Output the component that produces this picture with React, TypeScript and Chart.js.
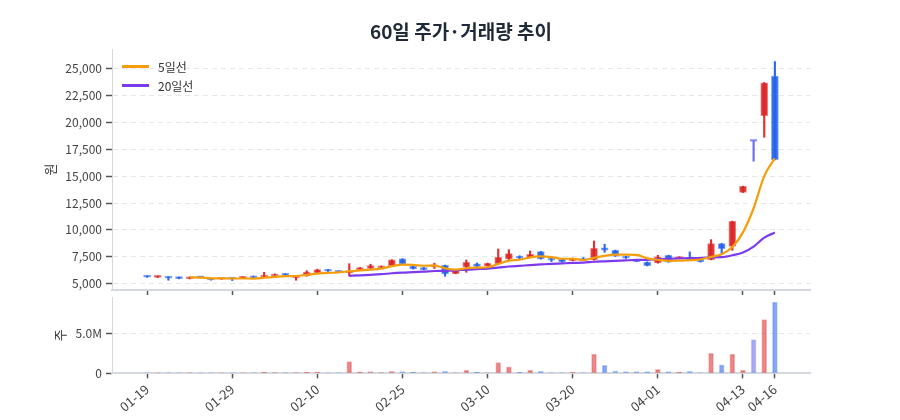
import React, { useEffect, useRef } from 'react';
import { Chart, registerables } from 'chart.js';

Chart.register(...registerables);

const FONT = '"Noto Sans CJK KR", "Noto Sans", sans-serif';

// Trading days (MM-DD)
const dates = [
  '01-19', '01-20', '01-21', '01-22', '01-23', '01-26', '01-27', '01-28', '01-29', '01-30',
  '02-02', '02-03', '02-04', '02-05', '02-06', '02-09', '02-10', '02-11', '02-12', '02-13',
  '02-19', '02-20', '02-23', '02-24', '02-25', '02-26', '02-27', '03-03', '03-04', '03-05',
  '03-06', '03-09', '03-10', '03-11', '03-12', '03-13', '03-16', '03-17', '03-18', '03-19',
  '03-20', '03-23', '03-24', '03-25', '03-26', '03-27', '03-30', '03-31', '04-01', '04-02',
  '04-03', '04-06', '04-07', '04-08', '04-09', '04-10', '04-13', '04-14', '04-15', '04-16',
];

const opens = [
  5700, 5580, 5620, 5590, 5450, 5600, 5460, 5400, 5480, 5480,
  5680, 5600, 5700, 5900, 5520, 5700, 6020, 6300, 6150, 6000,
  6280, 6420, 6460, 6640, 7300, 6600, 6490, 6550, 6700, 5930,
  6520, 6830, 6640, 6830, 7300, 7570, 7420, 7980, 7360, 7260,
  7140, 7330, 7200, 8320, 8100, 7540, 7200, 7000, 6920, 7630,
  7330, 7360, 7230, 7230, 8720, 8470, 13500, 18250, 20650, 24320,
];

const closes = [
  5600, 5690, 5500, 5460, 5600, 5540, 5340, 5450, 5420, 5600,
  5530, 5700, 5870, 5760, 5650, 6080, 6300, 6150, 6050, 6150,
  6480, 6670, 6610, 7200, 6830, 6360, 6300, 6700, 5900, 6240,
  6980, 6600, 6890, 7450, 7790, 7360, 7730, 7290, 7170, 7010,
  7360, 7150, 8290, 8100, 7540, 7360, 7050, 6660, 7480, 7000,
  7480, 7230, 7020, 8720, 8250, 10800, 14050, 18250, 23700, 16540,
];

const highs = [
  5720, 5710, 5640, 5610, 5620, 5620, 5480, 5470, 5500, 5620,
  5700, 6050, 5900, 5920, 5680, 6200, 6340, 6320, 6170, 6850,
  6500, 6800, 6630, 7220, 7320, 6620, 6510, 6900, 6720, 6260,
  7200, 6920, 6910, 8220, 8160, 7590, 8040, 8000, 7380, 7280,
  7380, 7420, 8970, 8660, 8120, 7560, 7220, 7020, 7630, 7650,
  7500, 7950, 7250, 9090, 8740, 10820, 14070, 18300, 23720, 25680,
];

const lows = [
  5580, 5560, 5310, 5440, 5430, 5520, 5320, 5380, 5280, 5460,
  5510, 5580, 5680, 5740, 5310, 5680, 6000, 6130, 6030, 5700,
  6260, 6400, 6440, 6620, 6810, 6340, 6280, 6400, 5680, 5910,
  6050, 6580, 6620, 6810, 7140, 7230, 7400, 7270, 7050, 6990,
  7120, 7130, 7180, 7910, 7520, 7340, 7030, 6640, 6900, 6980,
  7310, 7210, 7000, 7210, 7700, 8100, 13480, 16400, 18630, 16520,
];

// Shares traded per day
const volumes = [
  40000, 20000, 50000, 20000, 30000, 20000, 50000, 20000, 20000, 60000,
  50000, 150000, 80000, 30000, 80000, 150000, 150000, 20000, 60000, 1450000,
  180000, 200000, 80000, 250000, 200000, 150000, 60000, 200000, 250000, 60000,
  400000, 150000, 60000, 1330000, 800000, 120000, 400000, 250000, 60000, 60000,
  120000, 50000, 2400000, 1000000, 300000, 200000, 200000, 200000, 500000, 200000,
  150000, 250000, 50000, 2500000, 1050000, 2400000, 400000, 4200000, 6700000, 8900000,
];

// 5-day and 20-day moving averages
const ma5 = [
  null, null, null, null, 5570, 5558, 5488, 5478, 5470, 5470,
  5468, 5540, 5624, 5692, 5702, 5812, 5932, 5988, 6046, 6146,
  6226, 6300, 6392, 6622, 6758, 6734, 6660, 6678, 6418, 6300,
  6424, 6484, 6522, 6832, 7142, 7218, 7444, 7524, 7468, 7312,
  7312, 7196, 7396, 7582, 7688, 7688, 7668, 7342, 7218, 7110,
  7134, 7170, 7242, 7490, 7740, 8404, 9768, 12014, 15010, 16668,
];

const ma20 = [
  null, null, null, null, null, null, null, null, null, null,
  null, null, null, null, null, null, null, null, null, 5722,
  5766, 5815, 5871, 5958, 6019, 6060, 6108, 6171, 6195, 6227,
  6299, 6344, 6395, 6480, 6587, 6651, 6722, 6779, 6835, 6878,
  6922, 6946, 7030, 7075, 7111, 7161, 7198, 7196, 7275, 7313,
  7338, 7370, 7376, 7440, 7463, 7635, 7901, 8449, 9275, 9752,
];

const xTickIndex = [0, 8, 16, 24, 32, 40, 48, 56, 59];
const priceTicks = [5000, 7500, 10000, 12500, 15000, 17500, 20000, 22500, 25000];
const volumeTicks = [0, 5000000];

const RISE = [220, 38, 38];
const FALL = [37, 99, 235];
const FLAT = [99, 102, 241];
const MA5_COLOR = '#f59e0b';
const MA20_COLOR = '#7c3aed';

const rgba = (c: number[], a: number) => `rgba(${c[0]},${c[1]},${c[2]},${a})`;

const X_MIN = -3.3;
const X_MAX = 62.3;
const AXIS_W = 104;
const RIGHT_PAD = 82;

const legendItems = [
  { label: '5일선', color: MA5_COLOR },
  { label: '20일선', color: MA20_COLOR },
];

function xAxis(showLabels: boolean, height: number) {
  return {
    type: 'linear' as const,
    min: X_MIN,
    max: X_MAX,
    offset: false,
    afterBuildTicks: (s: any) => {
      s.ticks = xTickIndex.map((v) => ({ value: v }));
    },
    afterFit: (s: any) => {
      s.height = height;
      s.paddingLeft = 0;
      s.paddingRight = 0;
    },
    ticks: {
      display: showLabels,
      autoSkip: false,
      minRotation: 40,
      maxRotation: 40,
      padding: 3,
      color: '#444',
      font: { family: FONT, size: 13 },
      callback: (v: any) => dates[v] ?? '',
    },
    grid: {
      display: true,
      offset: false,
      drawOnChartArea: false,
      drawTicks: true,
      tickLength: 5,
      tickColor: '#555',
      tickWidth: 1.5,
    },
    border: { display: true, color: '#d5d9df', width: 2 },
  };
}

function yAxis(
  ticks: number[],
  min: number,
  max: number,
  fmt: (v: number) => string,
  title: string,
  titlePad: number,
) {
  return {
    type: 'linear' as const,
    min,
    max,
    afterBuildTicks: (s: any) => {
      s.ticks = ticks.map((v) => ({ value: v }));
    },
    afterFit: (s: any) => {
      s.width = AXIS_W;
      s.paddingTop = 0;
      s.paddingBottom = 0;
    },
    ticks: {
      color: '#444',
      padding: 4,
      font: { family: FONT, size: 12 },
      callback: (v: any) => fmt(Number(v)),
    },
    grid: {
      color: '#e5e7eb',
      lineWidth: 1,
      tickLength: 6,
      tickColor: '#555',
      tickWidth: 1.5,
      tickBorderDash: [],
    },
    border: { display: true, color: '#d5d9df', width: 1, dash: [5, 4] },
    title: {
      display: true,
      text: title,
      color: '#333',
      font: { family: FONT, size: 13 },
      padding: { top: titlePad, bottom: 0 },
    },
  };
}

export default function App() {
  const priceRef = useRef<HTMLCanvasElement | null>(null);
  const volRef = useRef<HTMLCanvasElement | null>(null);

  useEffect(() => {
    const tone = dates.map((_, i) =>
      closes[i] > opens[i] ? RISE : closes[i] < opens[i] ? FALL : FLAT,
    );

    const priceChart = new Chart(priceRef.current as HTMLCanvasElement, {
      type: 'bar',
      data: {
        datasets: [
          {
            type: 'line',
            label: '5일선',
            data: ma5.map((v, i) => ({ x: i, y: v })),
            borderColor: MA5_COLOR,
            borderWidth: 2.2,
            pointRadius: 0,
            cubicInterpolationMode: 'monotone',
            spanGaps: false,
            order: 0,
          },
          {
            type: 'line',
            label: '20일선',
            data: ma20.map((v, i) => ({ x: i, y: v })),
            borderColor: MA20_COLOR,
            borderWidth: 2.2,
            pointRadius: 0,
            cubicInterpolationMode: 'monotone',
            spanGaps: false,
            order: 0,
          },
          {
            type: 'bar',
            label: 'body',
            data: dates.map((_, i) => ({
              x: i,
              y: [Math.min(opens[i], closes[i]), Math.max(opens[i], closes[i])],
            })),
            backgroundColor: tone.map((c) => rgba(c, 0.92)),
            borderColor: tone.map((c) => rgba(c, 0.55)),
            borderWidth: 1,
            borderSkipped: false,
            barThickness: 7,
            minBarLength: 2,
            grouped: false,
            order: 1,
          },
          {
            type: 'bar',
            label: 'wick',
            data: dates.map((_, i) => ({ x: i, y: [lows[i], highs[i]] })),
            backgroundColor: tone.map((c) => rgba(c, 0.95)),
            borderWidth: 0,
            barThickness: 1.5,
            grouped: false,
            order: 2,
          },
        ],
      } as any,
      options: {
        responsive: false,
        animation: false,
        events: [],
        layout: { padding: { left: 0, right: RIGHT_PAD, top: 0, bottom: 0 } },
        plugins: {
          legend: { display: false },
          tooltip: { enabled: false },
          title: {
            display: true,
            text: '60일 주가·거래량 추이',
            fullSize: false,
            color: '#1f2937',
            font: { family: FONT, size: 19, weight: 'bold' },
            padding: { top: 12.6, bottom: 5.6 },
          },
        },
        scales: {
          x: xAxis(false, 8),
          y: yAxis(
            priceTicks,
            4400,
            26850,
            (v) => v.toLocaleString('en-US'),
            '원',
            34,
          ),
        },
      } as any,
    });

    const volChart = new Chart(volRef.current as HTMLCanvasElement, {
      type: 'bar',
      data: {
        datasets: [
          {
            label: '거래량',
            data: volumes.map((v, i) => ({ x: i, y: v })),
            backgroundColor: tone.map((c) => rgba(c, 0.55)),
            borderColor: tone.map((c) => rgba(c, 0.3)),
            borderWidth: 1,
            borderSkipped: false,
            barThickness: 5,
            grouped: false,
          },
        ],
      } as any,
      options: {
        responsive: false,
        animation: false,
        events: [],
        layout: { padding: { left: 0, right: RIGHT_PAD, top: 1.3, bottom: 0 } },
        plugins: {
          legend: { display: false },
          tooltip: { enabled: false },
        },
        scales: {
          x: xAxis(true, 38.7),
          y: yAxis(
            volumeTicks,
            0,
            9500000,
            (v) => (v === 0 ? '0' : `${(v / 1000000).toFixed(1)}M`),
            '주',
            44,
          ),
        },
      } as any,
    });

    return () => {
      priceChart.destroy();
      volChart.destroy();
    };
  }, []);

  return (
    <div style={{ position: 'relative', width: 884, height: 404, fontFamily: FONT }}>
      <canvas
        ref={priceRef}
        width={884}
        height={290}
        style={{ position: 'absolute', left: 0, top: 0 }}
      />
      <canvas
        ref={volRef}
        width={884}
        height={116}
        style={{ position: 'absolute', left: 0, top: 288 }}
      />
      {legendItems.map((item, k) => (
        <div
          key={item.label}
          style={{
            position: 'absolute',
            left: 114,
            top: 49.7 + k * 18.6,
            height: 18,
            display: 'flex',
            alignItems: 'center',
            fontSize: 12,
            color: '#333',
            whiteSpace: 'nowrap',
          }}
        >
          <span
            style={{
              display: 'inline-block',
              width: 27,
              height: 2.5,
              background: item.color,
              marginRight: 9,
            }}
          />
          <span>{item.label}</span>
        </div>
      ))}
    </div>
  );
}
